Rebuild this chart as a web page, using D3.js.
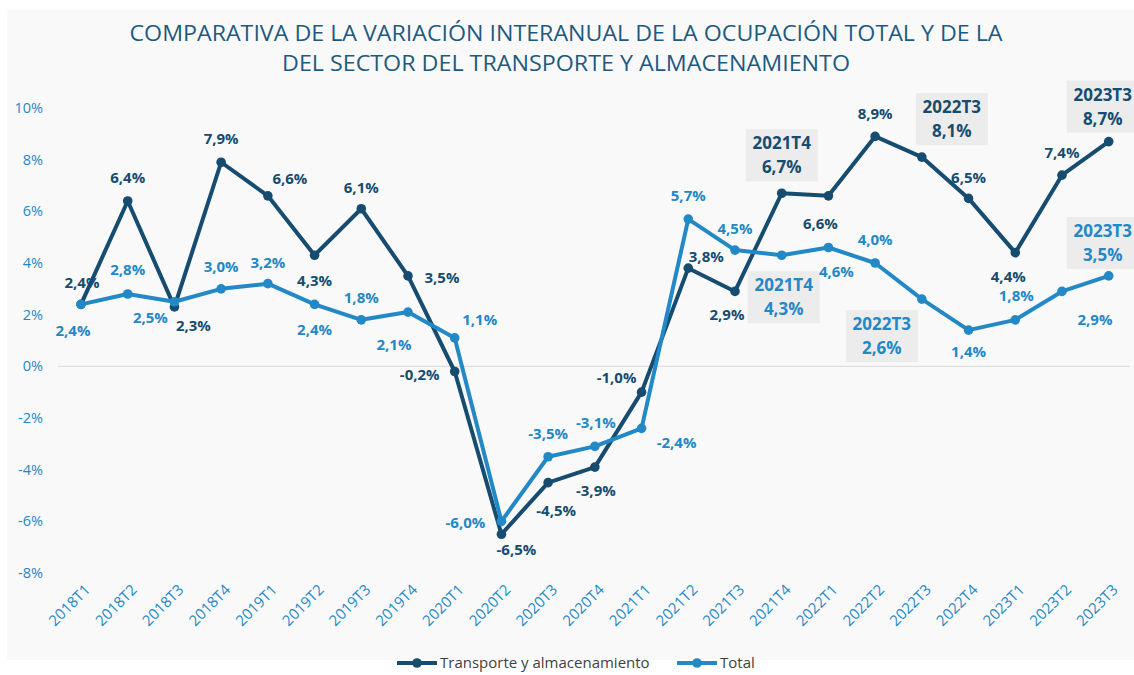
<!DOCTYPE html>
<html><head><meta charset="utf-8">
<script src="https://cdn.jsdelivr.net/npm/d3@7"></script>
<style>
body{margin:0;background:#fff;}
svg{display:block;font-family:"Open Sans",sans-serif;}
</style></head>
<body><svg id="c" width="1134" height="675"></svg>
<script>
const categories = ["2018T1","2018T2","2018T3","2018T4","2019T1","2019T2","2019T3","2019T4","2020T1","2020T2","2020T3","2020T4","2021T1","2021T2","2021T3","2021T4","2022T1","2022T2","2022T3","2022T4","2023T1","2023T2","2023T3"];
const transporte = [2.4,6.4,2.3,7.9,6.6,4.3,6.1,3.5,-0.2,-6.5,-4.5,-3.9,-1.0,3.8,2.9,6.7,6.6,8.9,8.1,6.5,4.4,7.4,8.7];
const total = [2.4,2.8,2.5,3.0,3.2,2.4,1.8,2.1,1.1,-6.0,-3.5,-3.1,-2.4,5.7,4.5,4.3,4.6,4.0,2.6,1.4,1.8,2.9,3.5];
const yTicks = [-8,-6,-4,-2,0,2,4,6,8,10];
const seriesNames = ["Transporte y almacenamiento","Total"];
const titleLines = ["COMPARATIVA DE LA VARIACIÓN INTERANUAL DE LA OCUPACIÓN TOTAL Y DE LA","DEL SECTOR DEL TRANSPORTE Y ALMACENAMIENTO"];
// highlighted (boxed) labels, by category
const boxedT = ["2021T4","2022T3","2023T3"];
const boxedTot = ["2021T4","2022T3","2023T3"];

// label placement offsets (pixels) relative to each point
const offT = [[1,-22],[0,-23],[19,19],[0,-24],[22,-17],[0,25],[0,-21],[34,2],[-35,3],[15,15],[8,28],[1,24],[-25,-14],[18,-11],[-8,23],[0,-38],[-8,28],[0,-23],[30,-38],[0,-21],[-7,24],[0,-22],[-6,-35]];
const offTot = [[-8,26],[0,-24],[-24,16],[0,-22],[0,-21],[0,25],[0,-22],[-14,33],[25,-18],[-36,1],[0,-23],[1,-24],[35,14],[0,-23],[0,-21],[2,42],[8,24],[0,-23],[-40,37],[0,22],[1,-24],[33,28],[-6,-33]];

const dark = "#164c6f", light = "#2388c6";
const svg = d3.select("#c");
svg.append("rect").attr("x",7).attr("y",10).attr("width",1127).attr("height",650).attr("fill","#f9f9f9");

// title
svg.selectAll("text.title").data(titleLines).enter().append("text")
  .attr("x",566).attr("y",(d,i)=>33+i*30).attr("dy","0.35em")
  .attr("text-anchor","middle").attr("fill","#1d5a80").attr("font-size",22)
  .attr("textLength",(d,i)=>i===0?873:568).attr("lengthAdjust","spacingAndGlyphs")
  .text(d=>d);

const x = d3.scalePoint().domain(categories).range([81,1108.7]);
const y = d3.scaleLinear().domain([-8,10]).range([573,108]);

// zero line
svg.append("line").attr("x1",58).attr("x2",1130).attr("y1",y(0)).attr("y2",y(0))
  .attr("stroke","#d9d9d9").attr("stroke-width",1);

// y axis
const ya = svg.append("g").attr("transform","translate(43,0)")
  .call(d3.axisLeft(y).tickValues(yTicks).tickSize(0).tickPadding(0).tickFormat(d=>d+"%"));
ya.select(".domain").remove();
ya.selectAll("text").attr("fill",light).attr("font-size",14.5).attr("font-family","Open Sans");

// x axis
const xa = svg.append("g").attr("transform","translate(0,582)")
  .call(d3.axisBottom(x).tickSize(0).tickPadding(0));
xa.select(".domain").remove();
xa.selectAll("text").attr("fill",light).attr("font-size",15).attr("font-family","Open Sans")
  .attr("text-anchor","end").attr("y",0).attr("dy","0.35em")
  .attr("transform","translate(6,5) rotate(-45)");

const line = d3.line().x((d,i)=>x(categories[i])).y(d=>y(d));

function drawSeries(vals, color){
  svg.append("path").datum(vals).attr("d",line).attr("fill","none")
    .attr("stroke",color).attr("stroke-width",4).attr("stroke-linejoin","round");
  svg.append("g").selectAll("circle").data(vals).enter().append("circle")
    .attr("cx",(d,i)=>x(categories[i])).attr("cy",d=>y(d)).attr("r",4.8).attr("fill",color);
}
drawSeries(transporte, dark);
drawSeries(total, light);

const fmt = v => v.toFixed(1).replace(".",",")+"%";
function drawLabels(vals, offs, color, boxed){
  const g = svg.append("g");
  vals.forEach((v,i)=>{
    const cx = x(categories[i]) + offs[i][0], cy = y(v) + offs[i][1];
    if (boxed.includes(categories[i])){
      g.append("rect").attr("x",cx-36).attr("y",cy-26).attr("width",72).attr("height",52).attr("fill","#ececec");
      g.append("text").attr("x",cx).attr("y",cy-12).attr("dy","0.35em").attr("text-anchor","middle")
        .attr("font-size",17).attr("font-weight",700).attr("fill",color).text(categories[i]);
      g.append("text").attr("x",cx).attr("y",cy+12).attr("dy","0.35em").attr("text-anchor","middle")
        .attr("font-size",17).attr("font-weight",700).attr("fill",color).text(fmt(v));
    } else {
      g.append("text").attr("x",cx).attr("y",cy).attr("dy","0.35em").attr("text-anchor","middle")
        .attr("font-size",15).attr("font-weight",700).attr("fill",color).text(fmt(v));
    }
  });
}
drawLabels(transporte, offT, dark, boxedT);
drawLabels(total, offTot, light, boxedTot);

// legend
const lg = svg.append("g");
const legendX = [397, 677], colors = [dark, light];
seriesNames.forEach((n,i)=>{
  lg.append("line").attr("x1",legendX[i]).attr("x2",legendX[i]+40).attr("y1",663).attr("y2",663)
    .attr("stroke",colors[i]).attr("stroke-width",4);
  lg.append("circle").attr("cx",legendX[i]+20).attr("cy",663).attr("r",4.8).attr("fill",colors[i]);
  lg.append("text").attr("x",legendX[i]+43).attr("y",663).attr("dy","0.35em")
    .attr("font-size",15).attr("fill","#404040").text(n);
});
</script></body></html>
